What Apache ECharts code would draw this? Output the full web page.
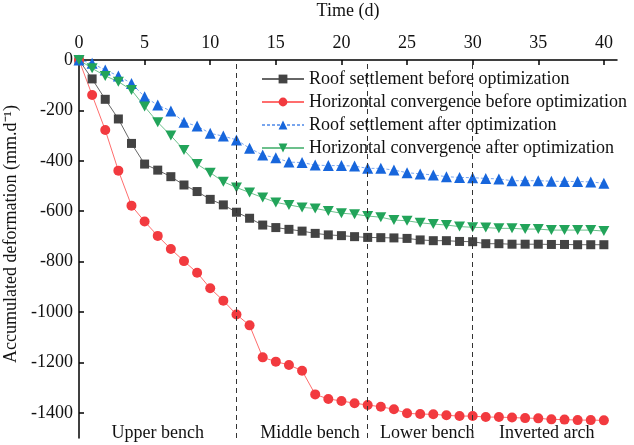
<!DOCTYPE html>
<html>
<head>
<meta charset="utf-8">
<script src="https://cdn.jsdelivr.net/npm/echarts@6/dist/echarts.min.js"></script>
<style>html,body{margin:0;padding:0;background:#fff;}#c{width:634px;height:445px;}</style>
</head>
<body>
<div id="c"></div>
<script>
const days = [0,1,2,3,4,5,6,7,8,9,10,11,12,13,14,15,16,17,18,19,20,21,22,23,24,25,26,27,28,29,30,31,32,33,34,35,36,37,38,39,40];
const roofBefore = [0,-75,-156,-234,-331,-413,-437,-463,-496,-522,-553,-575,-604,-628,-655,-665,-672,-679,-688,-694,-697,-701,-704,-705,-706,-708,-714,-717,-717,-720,-721,-729,-729,-731,-731,-731,-732,-732,-733,-733,-733];
const horizBefore = [0,-139,-278,-439,-578,-641,-698,-750,-798,-844,-906,-955,-1010,-1053,-1180,-1197,-1210,-1233,-1327,-1345,-1353,-1362,-1369,-1376,-1386,-1402,-1405,-1406,-1410,-1413,-1413,-1417,-1417,-1419,-1421,-1422,-1426,-1427,-1429,-1429,-1430];
const roofAfter = [0,-13,-40,-63,-93,-146,-179,-202,-247,-262,-291,-302,-317,-350,-377,-388,-405,-407,-417,-419,-419,-421,-430,-430,-437,-447,-452,-456,-463,-466,-467,-470,-472,-479,-479,-479,-481,-482,-482,-484,-489];
const horizAfter = [0,-33,-63,-86,-119,-185,-247,-300,-357,-413,-447,-483,-506,-526,-546,-565,-575,-585,-589,-599,-608,-612,-619,-624,-635,-638,-646,-651,-655,-661,-664,-665,-668,-668,-671,-671,-675,-675,-675,-675,-679];
const seriesNames = ['Roof settlement before optimization','Horizontal convergence before optimization','Roof settlement after optimization','Horizontal convergence after optimization'];
const xTicks = [0,5,10,15,20,25,30,35,40];
const yTicks = [0,-200,-400,-600,-800,-1000,-1200,-1400];
const stageBounds = [0,12,22,30,41];
const stageNames = ['Upper bench','Middle bench','Lower bench','Inverted arch'];
const stageLines = [12,22,30];

const font = "Liberation Serif";
const pair = arr => days.map((d,i)=>[d,arr[i]]);
const stageShift = [0,8,7,2];

const chart = echarts.init(document.getElementById('c'));
chart.setOption({
  backgroundColor:'#fff',
  animation:false,
  textStyle:{fontFamily:font},
  grid:{left:79, top:60, right:17, bottom:7, outerBoundsMode:'none', containLabel:false},
  legend:{
    orient:'vertical', left:256, top:65, itemGap:5, itemWidth:42, itemHeight:11,
    textStyle:{fontFamily:font, fontSize:18, color:'#111'},
    data:seriesNames
  },
  xAxis:{
    type:'value', position:'top', min:0, max:41,
    name:'Time (d)', nameLocation:'middle', nameGap:40,
    nameTextStyle:{fontFamily:font, fontSize:18, color:'#111'},
    axisLine:{onZero:false, lineStyle:{color:'#000', width:1.5}},
    axisTick:{inside:true, length:5, customValues:xTicks, lineStyle:{color:'#000', width:1.5}},
    axisLabel:{customValues:xTicks, fontFamily:font, fontSize:18, color:'#111', margin:8, formatter:v=>String(v)},
    splitLine:{show:false}
  },
  yAxis:{
    type:'value', min:-1500, max:0,
    name:'Accumulated deformation (mm.d\u207B\u00B9)', nameLocation:'middle', nameGap:52, nameRotate:90,
    nameTextStyle:{fontFamily:font, fontSize:18, color:'#111', padding:[0,0,0,30]},
    axisLine:{onZero:false, lineStyle:{color:'#000', width:1.5}},
    axisTick:{inside:true, length:5, customValues:yTicks, lineStyle:{color:'#000', width:1.5}},
    axisLabel:{customValues:yTicks, fontFamily:font, fontSize:18, color:'#111', margin:6, formatter:v=>String(v)},
    splitLine:{show:false}
  },
  series:[
    {
      name:seriesNames[0], type:'line', data:pair(roofBefore),
      symbol:'rect', symbolSize:9,
      itemStyle:{color:'#434343'},
      lineStyle:{color:'#666', width:1},
      markLine:{
        silent:true, symbol:['none','none'], label:{show:false},
        lineStyle:{color:'#333', type:[5,4], width:1},
        data:stageLines.map(v=>({xAxis:v}))
      },
      markArea:{
        silent:true,
        itemStyle:{color:'rgba(0,0,0,0)'},
        label:{position:'insideBottom', distance:-4, fontFamily:font, fontSize:18, color:'#111'},
        data:stageNames.map((n,i)=>[{name:n, xAxis:stageBounds[i], label:{offset:[stageShift[i],0]}},{xAxis:stageBounds[i+1]}])
      }
    },
    {
      name:seriesNames[1], type:'line', data:pair(horizBefore),
      symbol:'circle', symbolSize:10,
      itemStyle:{color:'#f23a3f'},
      lineStyle:{color:'#ff6d6d', width:1}
    },
    {
      name:seriesNames[2], type:'line', data:pair(roofAfter),
      symbol:'triangle', symbolSize:11,
      itemStyle:{color:'#1766dc'},
      lineStyle:{color:'#79a6ee', width:1, type:[3,2]}
    },
    {
      name:seriesNames[3], type:'line', data:pair(horizAfter),
      symbol:'path://M0,0 L10,0 L5,9 Z', symbolSize:[11,10],
      itemStyle:{color:'#22a45a'},
      lineStyle:{color:'#6cc08c', width:1}
    }
  ]
});
</script>
</body>
</html>
